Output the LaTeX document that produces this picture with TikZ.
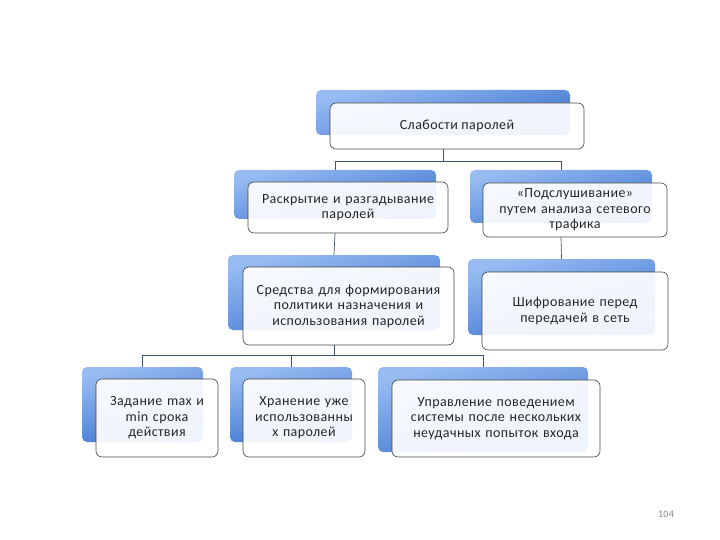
\documentclass[tikz,border=0pt]{standalone}
\usepackage{fontspec}
\setmainfont[LetterSpace=3]{Carlito}
\definecolor{blueT}{RGB}{152,188,242}
\definecolor{blueB}{RGB}{58,114,206}
\definecolor{edge}{RGB}{70,70,70}
\definecolor{conn}{RGB}{60,85,110}
\definecolor{pg}{RGB}{128,128,128}
\tikzset{
  backbox/.style={rounded corners=5pt, top color=blueT, bottom color=blueB, shading angle=15, draw=none, inner sep=0pt},
  frontbox/.style={rounded corners=6pt, draw=edge, line width=0.6pt, fill=white, fill opacity=0.92, text opacity=1, inner sep=2pt, align=center, font=\fontsize{14}{15.6}\selectfont, text=black!85},
  link/.style={draw=conn, line width=0.7pt}
}
\begin{document}
\begin{tikzpicture}[x=1pt,y=-1pt]
\useasboundingbox (0,0) rectangle (720,540);
% top
\node[backbox, minimum width=254pt, minimum height=45pt] (topb) at (443,112.5) {};
\node[frontbox, minimum width=254pt, minimum height=46pt] (top) at (457,126) {Слабости паролей};
% A
\node[backbox, minimum width=202pt, minimum height=49pt] (ab) at (335,194.5) {};
\node[frontbox, minimum width=200pt, minimum height=51pt, text width=196pt] (a) at (348,207.5) {Раскрытие и разгадывание\\паролей};
% C
\node[backbox, minimum width=182pt, minimum height=53pt] (cb) at (561,196.5) {};
\node[frontbox, minimum width=184pt, minimum height=54pt, text width=180pt] (c) at (575,210) {«Подслушивание»\\путем анализа сетевого\\трафика};
% B
\node[backbox, minimum width=212pt, minimum height=75pt] (bb) at (334,292.5) {};
\node[frontbox, minimum width=211pt, minimum height=78pt, text width=207pt] (b) at (348.5,306) {Средства для формирования\\политики назначения и\\использования паролей};
% D
\node[backbox, minimum width=187pt, minimum height=76pt] (db) at (561.5,297) {};
\node[frontbox, minimum width=186pt, minimum height=78pt, text width=182pt] (d) at (575,311) {Шифрование перед\\передачей в сеть};
% E
\node[backbox, minimum width=121pt, minimum height=75pt] (eb) at (142.5,404.5) {};
\node[frontbox, minimum width=122pt, minimum height=78pt, text width=118pt] (e) at (157,418) {Задание max и\\min срока\\действия};
% F
\node[backbox, minimum width=122pt, minimum height=75pt] (fb) at (291,404.5) {};
\node[frontbox, minimum width=122pt, minimum height=78pt, text width=118pt] (f) at (304,418) {Хранение уже\\использованны\\х паролей};
% G
\node[backbox, minimum width=210pt, minimum height=85pt] (gb) at (483,409.5) {};
\node[frontbox, minimum width=208pt, minimum height=77pt, text width=204pt] (g) at (496,418.5) {Управление поведением\\системы после нескольких\\неудачных попыток входа};
% connectors
\coordinate (j1) at (443,161);
\coordinate (j2) at (334,355);
\draw[link] (topb.center |- top.south) -- (j1);
\draw[link] (ab.north) -- (ab.north |- j1) -- (cb.north |- j1) -- (cb.north);
\draw[link] (ab.center |- a.south) -- (bb.north);
\draw[link] (cb.center |- c.south) -- (db.north);
\draw[link] (bb.center |- b.south) -- (j2);
\draw[link] (eb.north) -- (eb.north |- j2) -- (gb.north |- j2) -- (gb.north);
\draw[link] (fb.north |- j2) -- (fb.north);
% page number
\node[text=pg, font=\fontsize{10}{12}\selectfont] (pn) at (666,514) {104};
\end{tikzpicture}
\end{document}
